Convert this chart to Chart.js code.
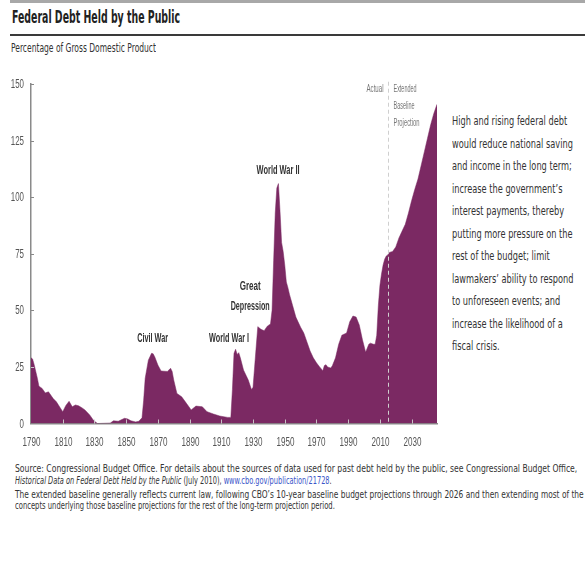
<!DOCTYPE html>
<html>
<head>
<meta charset="utf-8">
<script src="https://cdn.jsdelivr.net/npm/chart.js@4/dist/chart.umd.min.js"></script>
<style>
  body { margin: 0; width: 585px; height: 563px; background: #fff; position: relative; overflow: hidden;
         font-family: "Liberation Sans Narrow", "DejaVu Sans Condensed", sans-serif; color: #333; }
  .abs { position: absolute; white-space: nowrap; transform-origin: 0 50%; }
  #topbar { position: absolute; left: 10px; right: 0; top: 0; height: 3px; background: #a8a8a8; }
  #rule { position: absolute; left: 10px; right: 0; top: 34px; height: 2px; background: #3a3a3a; }
  #title { left: 12px; top: 7px; font-size: 18px; font-weight: bold; color: #222; line-height: 20px; }
  #subtitle { left: 11px; top: 41px; font-size: 12px; color: #333; line-height: 14px; }
  #wrap { position: absolute; left: 0; top: 70px; width: 445px; height: 390px; }
  .side { left: 452px; font-size: 13px; color: #333; line-height: 16px; }
  .note { left: 15px; font-size: 11px; color: #333; line-height: 12px; }
  .note a { color: #3b55c9; text-decoration: none; }
</style>
</head>
<body>
<div id="topbar"></div>
<div id="title" class="abs">Federal Debt Held by the Public</div>
<div id="rule"></div>
<div id="subtitle" class="abs">Percentage of Gross Domestic Product</div>
<div id="wrap"><canvas id="debtChart"></canvas></div>
<div id="side"></div>
<div id="notes">
  <div class="abs note" style="top:463px" data-w="562">Source: Congressional Budget Office. For details about the sources of data used for past debt held by the public, see Congressional Budget Office,</div>
  <div class="abs note" style="top:475px" data-w="317"><i>Historical Data on Federal Debt Held by the Public</i> (July 2010), <a>www.cbo.gov/publication/21728</a>.</div>
  <div class="abs note" style="top:489px" data-w="569">The extended baseline generally reflects current law, following CBO’s 10-year baseline budget projections through 2026 and then extending most of the</div>
  <div class="abs note" style="top:500px" data-w="320">concepts underlying those baseline projections for the rest of the long-term projection period.</div>
</div>
<script>
// debt held by the public, % of GDP
const years = [1790, 1791, 1792, 1794, 1795, 1797, 1799, 1801, 1804, 1806, 1808, 1810, 1812, 1814, 1816, 1818, 1820, 1822, 1824, 1827, 1829, 1831, 1832,
  1840, 1842, 1845, 1849, 1851, 1853, 1856, 1858, 1860, 1861, 1862, 1864, 1866, 1867, 1868, 1870, 1872, 1876, 1878, 1879, 1880, 1882,
  1885, 1888, 1891, 1894, 1898, 1901, 1905, 1909, 1914, 1916, 1917, 1918, 1919, 1920, 1921, 1922, 1924, 1927, 1929, 1930, 1931, 1932,
  1933, 1935, 1937, 1939, 1941, 1942, 1943, 1944, 1945, 1946, 1947, 1948, 1949, 1950, 1951, 1952, 1953, 1955, 1957, 1960, 1962,
  1964, 1966, 1968, 1970, 1972, 1974, 1975, 1976, 1977, 1979, 1980, 1982, 1984, 1986, 1989, 1991, 1993, 1995, 1997, 1999, 2001,
  2003, 2004, 2006, 2007, 2008, 2009, 2010, 2011, 2012, 2013, 2014, 2015, 2016, 2018, 2020, 2022, 2024, 2026, 2028, 2030, 2032,
  2034, 2036, 2038, 2040, 2042, 2044, 2046];
const debt = [29, 28.5, 26, 20, 16.5, 15.5, 13.5, 14, 11, 9.6, 7.4, 5.2, 8, 9.8, 7.4, 8.2, 7.8, 7, 6, 3.8, 1.8, 0.4, 0,
  0.2, 1.2, 1, 2.3, 2, 1.2, 0.7, 1, 2.5, 10, 20, 28, 31, 30.8, 29.5, 25.8, 23.2, 23, 24.4, 23, 19.2, 13.3,
  11.8, 8.9, 6, 7.7, 7.4, 5.2, 4.2, 3.3, 2.7, 2.7, 15, 31, 32.8, 30.5, 31.3, 29, 23.6, 19.2, 15, 16, 25, 34,
  42.8, 41.6, 41, 43, 44, 50, 72, 93, 104, 106, 94, 80, 76, 70, 62.5, 60, 57, 52, 47, 42.5, 40,
  36, 32, 29, 26.8, 25, 23.3, 25.6, 26, 25, 24.5, 25.5, 29, 35, 39, 40, 45, 47.5, 47, 43.5, 37, 31.5,
  35, 35.5, 35, 35, 39, 52, 61, 66, 70, 72.6, 74, 74.5, 75.6, 76, 78, 82, 85, 88, 93, 98.5, 103.5,
  108, 114, 120, 126, 132, 137, 141];
const xTicks = [1790, 1810, 1830, 1850, 1870, 1890, 1910, 1930, 1950, 1970, 1990, 2010, 2030];
const yTicks = [0, 25, 50, 75, 100, 125, 150];
const projectionStart = 2015;

const sideLines = [
  'High and rising federal debt',
  'would reduce national saving',
  'and income in the long term;',
  'increase the government’s',
  'interest payments, thereby',
  'putting more pressure on the',
  'rest of the budget; limit',
  'lawmakers’ ability to respond',
  'to unforeseen events; and',
  'increase the likelihood of a',
  'fiscal crisis.'
];

const FONT = '"Liberation Sans", Arial, sans-serif';
const PURPLE = '#7b2963';

const side = document.getElementById('side');
sideLines.forEach((t, i) => {
  const d = document.createElement('div');
  d.className = 'abs side';
  d.style.top = (113 + i * 22.5) + 'px';
  d.textContent = t;
  side.appendChild(d);
});

// squeeze the html text to the widths in the picture
function squeezeTo(el, w) {
  el.style.transform = 'scaleX(' + (w / el.scrollWidth) + ')';
}
squeezeTo(document.getElementById('title'), 168);
squeezeTo(document.getElementById('subtitle'), 145);
const sl = side.querySelectorAll('.abs');
const ss = 121 / sl[1].scrollWidth;
sl.forEach(el => el.style.transform = 'scaleX(' + ss + ')');
document.querySelectorAll('.note').forEach(el => squeezeTo(el, parseFloat(el.dataset.w)));

const overlay = {
  id: 'overlay',
  afterDatasetsDraw(chart) {
    const { ctx, scales: { x, y } } = chart;
    const base = y.getPixelForValue(0);
    const left = x.getPixelForValue(1790);

    function text(str, px, py, align, font, color, width) {
      ctx.save();
      ctx.font = font;
      ctx.fillStyle = color;
      ctx.textBaseline = 'middle';
      ctx.textAlign = align;
      ctx.translate(px, py);
      ctx.scale(width / ctx.measureText(str).width, 1);
      ctx.fillText(str, 0, 0);
      ctx.restore();
    }

    ctx.save();
    ctx.lineWidth = 1;
    // inward tick marks and labels
    xTicks.forEach(t => {
      const px = Math.round(x.getPixelForValue(t)) + 0.5;
      if (t !== 1790) {
        ctx.strokeStyle = 'rgba(210,210,210,0.9)';
        ctx.beginPath(); ctx.moveTo(px, base); ctx.lineTo(px, base - 4); ctx.stroke();
      }
      text(String(t), px, base + 19, 'center', '13px ' + FONT, '#555', 18);
    });
    yTicks.forEach(t => {
      const py = Math.round(y.getPixelForValue(t)) + 0.5;
      if (t !== 0) {
        ctx.strokeStyle = t <= 25 ? 'rgba(210,210,210,0.9)' : '#888';
        ctx.beginPath(); ctx.moveTo(left, py); ctx.lineTo(left + 3, py); ctx.stroke();
      }
      text(String(t), 24, py, 'right', '13px ' + FONT, '#555', String(t).length * 4.4);
    });

    // dashed line where the projection starts
    const dx = Math.round(x.getPixelForValue(projectionStart)) + 0.5;
    ctx.strokeStyle = '#cfcfcf';
    ctx.setLineDash([4, 3]);
    ctx.beginPath(); ctx.moveTo(dx, y.getPixelForValue(151)); ctx.lineTo(dx, base); ctx.stroke();
    ctx.setLineDash([]);

    const small = '10px ' + FONT;
    text('Actual', dx - 5, y.getPixelForValue(147.7), 'right', small, '#777', 17);
    [['Extended', 23], ['Baseline', 21], ['Projection', 26]].forEach((t, i) => {
      text(t[0], dx + 5, y.getPixelForValue(147.7 - i * 7.5), 'left', small, '#777', t[1]);
    });

    const bold = 'bold 12px ' + FONT;
    const notes = [
      ['Civil War', 1866.7, 37.6, 31],
      ['World War I', 1914.9, 37.3, 40],
      ['Great', 1928.2, 60.4, 21],
      ['Depression', 1928.2, 51.6, 39],
      ['World War II', 1945.8, 111.7, 43]
    ];
    notes.forEach(n => text(n[0], x.getPixelForValue(n[1]), y.getPixelForValue(n[2]), 'center', bold, '#333', n[3]));
    ctx.restore();
  }
};

new Chart(document.getElementById('debtChart'), {
  type: 'line',
  data: {
    datasets: [{
      data: years.map((yr, i) => ({ x: yr, y: debt[i] })),
      fill: 'origin',
      backgroundColor: PURPLE,
      borderColor: PURPLE,
      borderWidth: 0.5,
      pointRadius: 0,
      tension: 0
    }]
  },
  options: {
    responsive: true,
    maintainAspectRatio: false,
    animation: false,
    layout: { padding: { top: 14, right: 8, left: 0, bottom: 0 } },
    plugins: { legend: { display: false }, tooltip: { enabled: false } },
    scales: {
      x: {
        type: 'linear',
        min: 1790,
        max: 2046,
        afterBuildTicks: s => { s.ticks = xTicks.map(v => ({ value: v })); },
        afterFit: s => { s.height = 36.5; },
        grid: { display: false, drawTicks: false },
        border: { color: '#8a8a8a', width: 1.5 },
        ticks: { display: false }
      },
      y: {
        min: 0,
        max: 150,
        afterBuildTicks: s => { s.ticks = yTicks.map(v => ({ value: v })); },
        afterFit: s => { s.width = 31; },
        grid: { display: false, drawTicks: false },
        border: { color: '#8a8a8a', width: 1.5 },
        ticks: { display: false }
      }
    }
  },
  plugins: [overlay]
});
</script>
</body>
</html>
